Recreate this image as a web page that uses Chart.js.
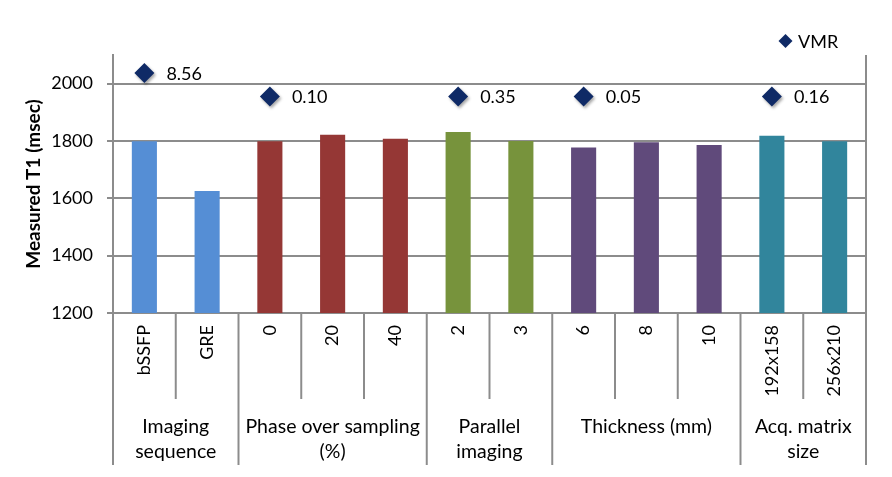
<!DOCTYPE html>
<html><head><meta charset="utf-8">
<script src="https://cdn.jsdelivr.net/npm/chart.js@4/dist/chart.umd.min.js"></script>
<style>html,body{margin:0;padding:0;background:#fff}</style>
</head><body>
<canvas id="c" width="892" height="477"></canvas>
<script>
const categories = ["bSSFP","GRE","0","20","40","2","3","6","8","10","192x158","256x210"];
const measuredT1 = [1799,1626,1799,1822,1808,1831,1800,1777,1796,1786,1818,1799];
const groupNames = [["Imaging","sequence"],["Phase over sampling","(%)"],["Parallel","imaging"],["Thickness (mm)"],["Acq. matrix","size"]];
const groupSizes = [2,3,2,3,2];
const groupColors = ["#558ED5","#953735","#77933C","#604A7B","#31859C"];
const vmrValues = [8.56,null,0.10,null,null,0.35,null,0.05,null,null,0.16,null];
const vmrMarkerY = [2037,null,1955,null,null,1955,null,1955,null,null,1955,null];
const yTicks = [1200,1400,1600,1800,2000];
const legendLabel = "VMR";
const yTitle = "Measured T1 (msec)";

const barColors = groupSizes.flatMap((n,g)=>Array(n).fill(groupColors[g]));
const GRID = "#8c8c8c";
const FONT = "Lato, 'Open Sans', sans-serif";
const MARK = "#0F2A66";

const extras = {
  id: 'extras',
  beforeDatasetDraw(chart, args) {
    if (args.index === 1) {
      const ctx = chart.ctx;
      ctx.save();
      ctx.shadowColor = 'rgba(0,0,0,0.35)';
      ctx.shadowBlur = 3;
      ctx.shadowOffsetX = 1.5;
      ctx.shadowOffsetY = 2;
    }
  },
  afterDatasetDraw(chart, args) {
    if (args.index === 1) chart.ctx.restore();
  },
  afterDraw(chart) {
    const ctx = chart.ctx, x = chart.scales.x, area = chart.chartArea;
    const shortEnd = 399, longEnd = 465;
    ctx.save();
    ctx.strokeStyle = GRID;
    ctx.lineWidth = 2;
    const bounds = [];
    for (let i = 0; i <= categories.length; i++) {
      let px;
      if (i === 0) px = area.left;
      else if (i === categories.length) px = area.right;
      else px = (x.getPixelForValue(i-1) + x.getPixelForValue(i)) / 2;
      bounds.push(px);
    }
    const groupEdges = new Set([0]);
    let acc = 0;
    groupSizes.forEach(n => { acc += n; groupEdges.add(acc); });
    bounds.forEach((px, i) => {
      ctx.beginPath();
      const top = (i === categories.length) ? area.top : area.bottom;
      ctx.moveTo(px, top);
      ctx.lineTo(px, groupEdges.has(i) ? longEnd : shortEnd);
      ctx.stroke();
    });
    ctx.fillStyle = '#000';
    ctx.font = '19.5px ' + FONT;
    ctx.textAlign = 'center';
    ctx.textBaseline = 'middle';
    let start = 0;
    groupSizes.forEach((n, g) => {
      const cx = (bounds[start] + bounds[start + n]) / 2;
      groupNames[g].forEach((line, k) => ctx.fillText(line, cx, 427 + k * 25));
      start += n;
    });
    const meta = chart.getDatasetMeta(1);
    ctx.font = '18px ' + FONT;
    ctx.textAlign = 'left';
    meta.data.forEach((pt, i) => {
      if (vmrValues[i] == null) return;
      ctx.fillText(vmrValues[i].toFixed(2), pt.x + 22, pt.y + 1);
    });
    ctx.restore();
    ctx.save();
    ctx.fillStyle = MARK;
    ctx.strokeStyle = MARK;
    ctx.lineWidth = 0;
    Chart.helpers.drawPoint(ctx, {pointStyle: 'rectRot', radius: 7, borderWidth: 0}, 785.5, 41);
    ctx.fillStyle = '#000';
    ctx.font = '18px ' + FONT;
    ctx.textAlign = 'left';
    ctx.textBaseline = 'middle';
    ctx.fillText(legendLabel, 798, 42);
    ctx.restore();
  }
};

new Chart(document.getElementById('c'), {
  data: {
    labels: categories,
    datasets: [
      { type: 'bar', label: 'Measured T1', data: measuredT1, backgroundColor: barColors,
        barPercentage: 0.4, categoryPercentage: 1.0, order: 2 },
      { type: 'line', label: legendLabel, data: vmrMarkerY, showLine: false,
        pointStyle: 'rectRot', pointRadius: 10, pointHoverRadius: 10,
        pointBackgroundColor: MARK, pointBorderColor: MARK, pointBorderWidth: 0, order: 1 }
    ]
  },
  options: {
    responsive: false,
    animation: false,
    events: [],
    layout: { padding: { top: 55, right: 26, left: 0, bottom: 0 } },
    plugins: { legend: { display: false }, tooltip: { enabled: false } },
    scales: {
      x: {
        offset: true,
        afterFit: s => { s.height = 164; },
        grid: { display: false, drawTicks: false },
        border: { display: true, color: GRID, width: 2 },
        ticks: { minRotation: 90, maxRotation: 90, autoSkip: false, padding: 12,
          color: '#000', font: { family: FONT, size: 18 } }
      },
      y: {
        min: 1200, max: 2100,
        afterFit: s => { s.width = 113; },
        afterBuildTicks: s => { s.ticks = yTicks.map(v => ({ value: v })); },
        grid: { color: GRID, lineWidth: 2, tickLength: 6, drawTicks: true },
        border: { display: true, color: GRID, width: 2 },
        ticks: { padding: 14, color: '#000', font: { family: FONT, size: 18 },
          callback: v => String(v) },
        title: { display: true, text: yTitle, color: '#000',
          font: { family: FONT, size: 19, weight: 'bold' }, padding: { top: 22, bottom: 0 } }
      }
    }
  },
  plugins: [extras]
});
</script>
</body></html>
